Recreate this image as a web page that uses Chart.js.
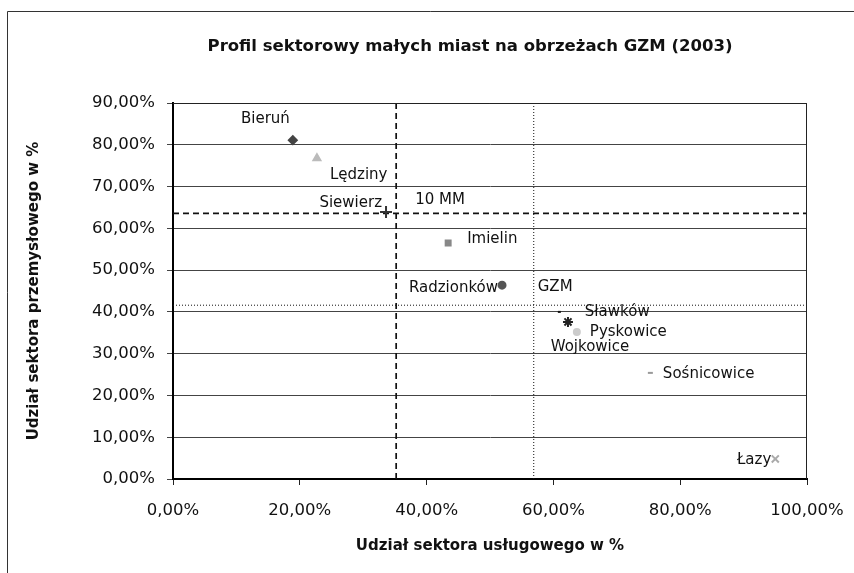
<!DOCTYPE html>
<html>
<head>
<meta charset="utf-8">
<script src="https://cdn.jsdelivr.net/npm/chart.js@4.4.0/dist/chart.umd.min.js"></script>
<style>
  html, body { margin: 0; padding: 0; background: #fff; }
  #wrap { width: 854px; height: 573px; position: relative; }
</style>
</head>
<body>
<div id="wrap"><canvas id="chart"></canvas></div>
<script>
// values (in %)
const towns = ['Bieruń', 'Lędziny', 'Siewierz', 'Imielin', 'Radzionków', 'Sławków', 'Pyskowice', 'Wojkowice', 'Sośnicowice', 'Łazy'];
const services = [18.9, 22.7, 33.6, 43.4, 51.9, 60.7, 63.7, 62.3, 74.9, 95.0];
const industry = [81.1, 76.8, 63.9, 56.5, 46.4, 40.0, 35.2, 37.6, 25.4, 4.8];

// reference averages: mean of 10 small towns and GZM
const mean10MM = { services: 35.2, industry: 63.6 };
const meanGZM = { services: 56.9, industry: 41.6 };

const xTicks = [0, 20, 40, 60, 80, 100];
const yTicks = [0, 10, 20, 30, 40, 50, 60, 70, 80, 90];

// marker look per town (same order as towns)
const markerStyle = ['rectRot', 'triangle', 'cross', 'rect', 'circle', 'dash', 'circle', 'star', 'dash', 'crossRot'];
const markerSize = [4, 4, 6, 3.5, 3.5, 3, 3, 5, 5, 5];
const markerColor = ['#444', '#bbb', '#333', '#888', '#555', '#111', '#ccc', '#222', '#999', '#aaa'];

// label placement relative to marker [dx, dy, align]
const labelPlace = [
  [-3, -21, 'right'], [13, 17, 'left'], [-4, -9, 'right'], [19, -4, 'left'], [-4, 3, 'right'],
  [27, 0, 'left'], [13, 0, 'left'], [22, 25, 'center'], [15, 1, 'left'], [-4, 1, 'right']
];

const FONT = '"DejaVu Sans", "Liberation Sans", sans-serif';
const pct = v => v.toFixed(2).replace('.', ',') + '%';

const frameAndLabels = {
  id: 'frameAndLabels',
  beforeDraw(chart) {
    const ctx = chart.ctx;
    ctx.save();
    ctx.strokeStyle = '#333';
    ctx.lineWidth = 1;
    ctx.beginPath();
    ctx.moveTo(7.5, 573);
    ctx.lineTo(7.5, 11.5);
    ctx.lineTo(854, 11.5);
    ctx.stroke();
    ctx.fillStyle = '#111';
    ctx.font = 'bold 16.5px ' + FONT;
    ctx.textAlign = 'center';
    ctx.textBaseline = 'middle';
    ctx.fillText('Profil sektorowy małych miast na obrzeżach GZM (2003)', 470, 47);
    ctx.restore();
  },
  afterDatasetsDraw(chart) {
    const ctx = chart.ctx;
    const a = chart.chartArea;
    ctx.save();
    ctx.strokeStyle = '#222';
    ctx.lineWidth = 1;
    ctx.beginPath();
    ctx.moveTo(a.left, a.top + 0.5);
    ctx.lineTo(a.right - 0.5, a.top + 0.5);
    ctx.lineTo(a.right - 0.5, a.bottom);
    ctx.stroke();

    ctx.fillStyle = '#111';
    ctx.font = '15px ' + FONT;
    ctx.textBaseline = 'middle';
    const pts = chart.getDatasetMeta(0).data;
    pts.forEach((p, i) => {
      const [dx, dy, al] = labelPlace[i];
      ctx.textAlign = al;
      ctx.fillText(towns[i], p.x + dx, p.y + dy);
    });
    const xs = chart.scales.x, ys = chart.scales.y;
    ctx.textAlign = 'left';
    ctx.fillText('10 MM', xs.getPixelForValue(mean10MM.services) + 19, ys.getPixelForValue(mean10MM.industry) - 13);
    ctx.fillText('GZM', xs.getPixelForValue(meanGZM.services) + 4, ys.getPixelForValue(meanGZM.industry) - 18);
    ctx.restore();
  }
};

const refLine = (pts, dash, width) => ({
  type: 'scatter',
  data: pts,
  showLine: true,
  borderColor: '#111',
  borderWidth: width,
  borderDash: dash,
  pointRadius: 0,
  fill: false
});

new Chart(document.getElementById('chart'), {
  type: 'scatter',
  data: {
    datasets: [
      {
        label: 'miasta',
        data: services.map((s, i) => ({ x: s, y: industry[i] })),
        pointStyle: markerStyle,
        pointRadius: markerSize,
        backgroundColor: markerColor,
        borderColor: markerColor,
        borderWidth: 2
      },
      refLine([{ x: mean10MM.services, y: 0 }, { x: mean10MM.services, y: 90 }], [6, 4], 1.7),
      refLine([{ x: 0, y: mean10MM.industry }, { x: 100, y: mean10MM.industry }], [6, 4], 1.7),
      refLine([{ x: meanGZM.services, y: 0 }, { x: meanGZM.services, y: 90 }], [1, 2], 1),
      refLine([{ x: 0, y: meanGZM.industry }, { x: 100, y: meanGZM.industry }], [1, 2], 1)
    ]
  },
  options: {
    responsive: true,
    maintainAspectRatio: false,
    animation: false,
    layout: { padding: { top: 103, right: 47, left: 0, bottom: 0 } },
    plugins: { legend: { display: false }, tooltip: { enabled: false } },
    scales: {
      x: {
        type: 'linear', min: 0, max: 100,
        afterFit: s => { s.height = 94; s.paddingLeft = 0; s.paddingRight = 0; },
        afterBuildTicks: s => { s.ticks = xTicks.map(v => ({ value: v })); },
        ticks: { callback: pct, color: '#111', font: { family: FONT, size: 16.5 }, padding: 16 },
        grid: { drawOnChartArea: false, drawTicks: true, tickLength: 6, color: '#222' },
        border: { color: '#000', width: 2 },
        title: { display: true, text: 'Udział sektora usługowego w %', color: '#111',
                 font: { family: FONT, size: 15, weight: 'bold' }, padding: { top: 0, bottom: 18 } }
      },
      y: {
        type: 'linear', min: 0, max: 90,
        afterFit: s => { s.width = 173; s.paddingTop = 0; s.paddingBottom = 0; },
        afterBuildTicks: s => { s.ticks = yTicks.map(v => ({ value: v })); },
        ticks: { callback: pct, color: '#111', font: { family: FONT, size: 16.5 }, padding: 12 },
        grid: { color: '#444', lineWidth: 1, tickLength: 6 },
        border: { color: '#000', width: 2 },
        title: { display: true, text: 'Udział sektora przemysłowego w %', color: '#111',
                 font: { family: FONT, size: 15, weight: 'bold' }, padding: { top: 25, bottom: 0 } }
      }
    }
  },
  plugins: [frameAndLabels]
});
</script>
</body>
</html>
